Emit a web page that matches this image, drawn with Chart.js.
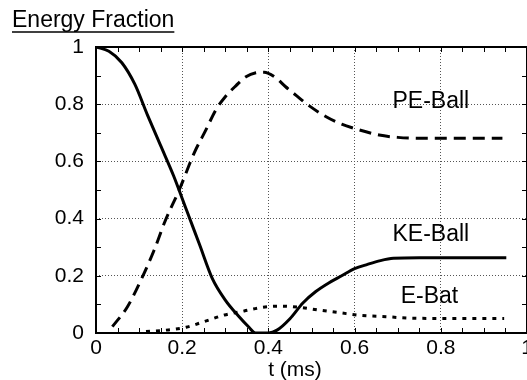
<!DOCTYPE html>
<html>
<head>
<meta charset="utf-8">
<script src="https://cdn.jsdelivr.net/npm/chart.js@4/dist/chart.umd.min.js"></script>
<style>
  html, body { margin: 0; padding: 0; background: #fff; overflow: hidden; }
  canvas { display: block; }
</style>
</head>
<body>
<canvas id="energyChart" width="545" height="380"></canvas>
<script>
// values, t in ms
var keTime = [0, 0.03, 0.06, 0.09, 0.12, 0.15, 0.18, 0.21, 0.24, 0.27, 0.30, 0.33, 0.355, 0.37, 0.40, 0.42, 0.45, 0.48, 0.51, 0.54, 0.57, 0.60, 0.63, 0.66, 0.69, 0.75, 0.85, 0.952];
var keBall = [1.0, 0.985, 0.945, 0.87, 0.76, 0.655, 0.55, 0.43, 0.31, 0.19, 0.115, 0.06, 0.02, 0, 0, 0.01, 0.05, 0.105, 0.145, 0.175, 0.2, 0.225, 0.24, 0.253, 0.261, 0.263, 0.263, 0.263];

var peTime = [0.038, 0.073, 0.108, 0.135, 0.16, 0.193, 0.228, 0.255, 0.278, 0.30, 0.325, 0.348, 0.371, 0.39, 0.415, 0.44, 0.465, 0.487, 0.534, 0.57, 0.60, 0.657, 0.70, 0.75, 0.85, 0.943];
var peBall = [0.022, 0.092, 0.197, 0.29, 0.39, 0.50, 0.63, 0.71, 0.78, 0.826, 0.865, 0.896, 0.91, 0.912, 0.895, 0.861, 0.83, 0.803, 0.756, 0.73, 0.715, 0.692, 0.684, 0.681, 0.681, 0.681];

var batTime = [0.116, 0.162, 0.209, 0.251, 0.298, 0.344, 0.386, 0.425, 0.472, 0.518, 0.565, 0.611, 0.673, 0.727, 0.80, 0.947];
var eBat = [0.005, 0.01, 0.02, 0.04, 0.063, 0.077, 0.09, 0.094, 0.09, 0.08, 0.071, 0.062, 0.057, 0.052, 0.051, 0.051];

var tickValues = [0, 0.2, 0.4, 0.6, 0.8, 1];
var curveLabels = ['PE-Ball', 'KE-Ball', 'E-Bat'];
var labelAt = [[0.688, 0.787], [0.688, 0.323], [0.707, 0.104]];

var FONT = '"Liberation Sans", Arial, sans-serif';

function toPoints(xs, ys) {
    return xs.map(function (x, i) { return { x: x, y: ys[i] }; });
}

// frame, inward minor ticks, curve labels and axis titles
var decorations = {
    id: 'decorations',
    afterDraw: function (chart) {
        var ctx = chart.ctx;
        var a = chart.chartArea;
        var xs = chart.scales.x, ys = chart.scales.y;
        ctx.save();
        ctx.strokeStyle = '#000';
        ctx.lineWidth = 1;
        ctx.beginPath();
        for (var t = 0.05; t < 1; t += 0.05) {
            var px = Math.round(xs.getPixelForValue(t)) + 0.5;
            ctx.moveTo(px, a.bottom); ctx.lineTo(px, a.bottom - 5);
            ctx.moveTo(px, a.top); ctx.lineTo(px, a.top + 5);
        }
        for (var v = 0.1; v < 1; v += 0.1) {
            var py = Math.round(ys.getPixelForValue(v)) + 0.5;
            ctx.moveTo(a.left, py); ctx.lineTo(a.left + 5, py);
            ctx.moveTo(a.right, py); ctx.lineTo(a.right - 5, py);
        }
        ctx.stroke();
        ctx.lineWidth = 2;
        ctx.strokeRect(a.left, a.top, a.right - a.left, a.bottom - a.top);

        ctx.fillStyle = '#000';
        ctx.textBaseline = 'alphabetic';
        ctx.font = '23px ' + FONT;
        ctx.textAlign = 'left';
        curveLabels.forEach(function (txt, i) {
            ctx.fillText(txt, xs.getPixelForValue(labelAt[i][0]), ys.getPixelForValue(labelAt[i][1]));
        });

        ctx.font = '21px ' + FONT;
        ctx.textAlign = 'center';
        ctx.fillText('t (ms)', 295, 376);

        ctx.font = '23px ' + FONT;
        ctx.textAlign = 'left';
        ctx.fillText('Energy Fraction', 12, 27);
        var w = ctx.measureText('Energy Fraction').width;
        ctx.lineWidth = 1.5;
        ctx.beginPath();
        ctx.moveTo(12, 32); ctx.lineTo(12 + w, 32);
        ctx.stroke();
        ctx.restore();
    }
};

var lineStyle = {
    showLine: true,
    pointRadius: 0,
    borderColor: '#000',
    borderWidth: 3,
    fill: false,
    cubicInterpolationMode: 'monotone'
};

new Chart(document.getElementById('energyChart').getContext('2d'), {
    type: 'scatter',
    data: {
        datasets: [
            Object.assign({ label: 'KE-Ball', data: toPoints(keTime, keBall) }, lineStyle),
            Object.assign({ label: 'PE-Ball', data: toPoints(peTime, peBall), borderDash: [12, 7] }, lineStyle),
            Object.assign({ label: 'E-Bat', data: toPoints(batTime, eBat), borderDash: [4, 6] }, lineStyle)
        ]
    },
    options: {
        responsive: false,
        animation: false,
        layout: { padding: { top: 47, right: 18, left: 0, bottom: 0 } },
        plugins: { legend: { display: false }, tooltip: { enabled: false } },
        scales: {
            x: {
                type: 'linear',
                min: 0, max: 1,
                afterFit: function (s) { s.height = 47; },
                afterBuildTicks: function (s) { s.ticks = tickValues.map(function (v) { return { value: v }; }); },
                ticks: {
                    padding: 3,
                    color: '#000',
                    font: { family: FONT, size: 21 },
                    maxRotation: 0,
                    callback: function (v) { return String(+v.toFixed(1)); }
                },
                grid: { color: '#555', lineWidth: 1, drawTicks: false },
                border: { display: false, dash: [1, 2] }
            },
            y: {
                type: 'linear',
                min: 0, max: 1,
                afterFit: function (s) { s.width = 96; },
                afterBuildTicks: function (s) { s.ticks = tickValues.map(function (v) { return { value: v }; }); },
                ticks: {
                    padding: 12,
                    color: '#000',
                    font: { family: FONT, size: 21 },
                    callback: function (v) { return String(+v.toFixed(1)); }
                },
                grid: { color: '#555', lineWidth: 1, drawTicks: false },
                border: { display: false, dash: [1, 2] }
            }
        }
    },
    plugins: [decorations]
});
</script>
</body>
</html>
